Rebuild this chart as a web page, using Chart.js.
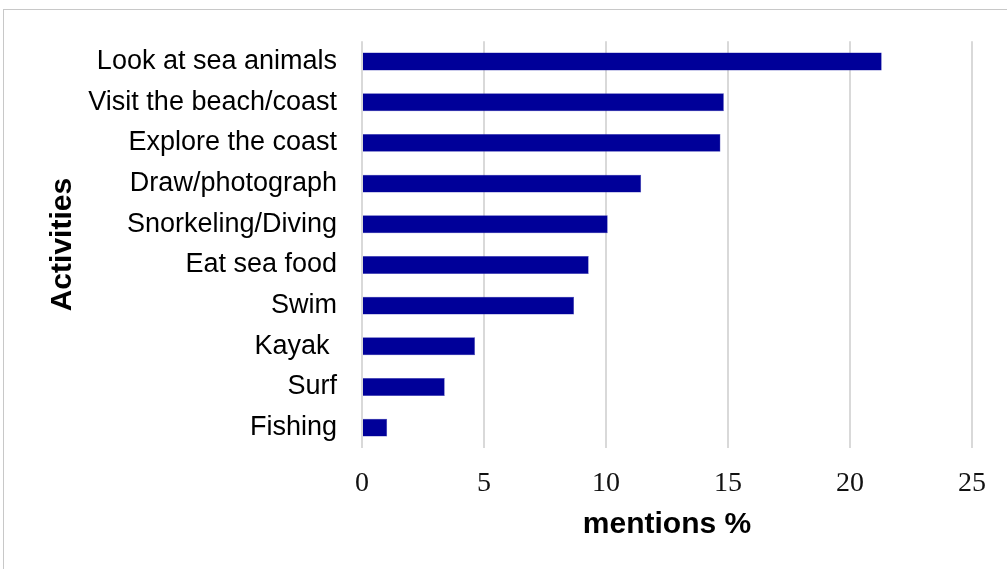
<!DOCTYPE html>
<html>
<head>
<meta charset="utf-8">
<script src="https://cdn.jsdelivr.net/npm/chart.js@4/dist/chart.umd.min.js"></script>
<style>
  html, body { margin: 0; padding: 0; background: #fff; }
  #wrap { position: relative; width: 1007px; height: 569px; }
  #frame {
    position: absolute; left: 3px; top: 9px; right: 0; bottom: 0;
    border-left: 1px solid #c8c8c8; border-top: 1px solid #c8c8c8;
    pointer-events: none;
  }
</style>
</head>
<body>
<div id="wrap">
  <canvas id="activitiesChart" width="1007" height="569"></canvas>
  <div id="frame"></div>
</div>
<script>
const activities = [
  "Look at sea animals",
  "Visit the beach/coast",
  "Explore the coast",
  "Draw/photograph",
  "Snorkeling/Diving",
  "Eat sea food",
  "Swim",
  "Kayak ",
  "Surf",
  "Fishing",
];
const mentions = [21.3, 14.83, 14.69, 11.44, 10.07, 9.29, 8.69, 4.63, 3.39, 1.03];
const xTicks = [0, 5, 10, 15, 20, 25];

const ctx = document.getElementById("activitiesChart");

new Chart(ctx, {
  type: "bar",
  data: {
    labels: activities,
    datasets: [
      {
        data: mentions,
        backgroundColor: "#000099",
        borderColor: "#3333b0",
        borderWidth: 0.5,
        barPercentage: 0.44,
        categoryPercentage: 1,
      },
    ],
  },
  options: {
    indexAxis: "y",
    responsive: false,
    animation: false,
    layout: { padding: { top: 39, right: 35, left: 0, bottom: 0 } },
    scales: {
      x: {
        min: 0,
        max: 25,
        afterBuildTicks: (scale) => {
          scale.ticks = xTicks.map((v) => ({ value: v }));
        },
        afterFit: (scale) => {
          scale.height = 121;
        },
        grid: { color: "#d9d9d9", lineWidth: 2, drawTicks: false },
        border: { display: false },
        ticks: {
          padding: 19,
          color: "#111",
          font: { family: "Liberation Serif", size: 28 },
        },
        title: {
          display: true,
          text: "mentions %",
          color: "#000",
          padding: { top: 0, bottom: 26 },
          font: { family: "Liberation Sans", size: 30, weight: "bold" },
        },
      },
      y: {
        afterFit: (scale) => {
          scale.width = 362;
        },
        grid: { display: false, drawTicks: false },
        border: { display: false },
        ticks: {
          padding: 25,
          color: "#000",
          font: { family: "Liberation Sans", size: 27 },
        },
        title: {
          display: true,
          text: "Activities",
          color: "#000",
          padding: { top: 45, bottom: 0 },
          font: { family: "Liberation Sans", size: 30, weight: "bold" },
        },
      },
    },
    plugins: {
      legend: { display: false },
      tooltip: { enabled: false },
    },
  },
});
</script>
</body>
</html>
